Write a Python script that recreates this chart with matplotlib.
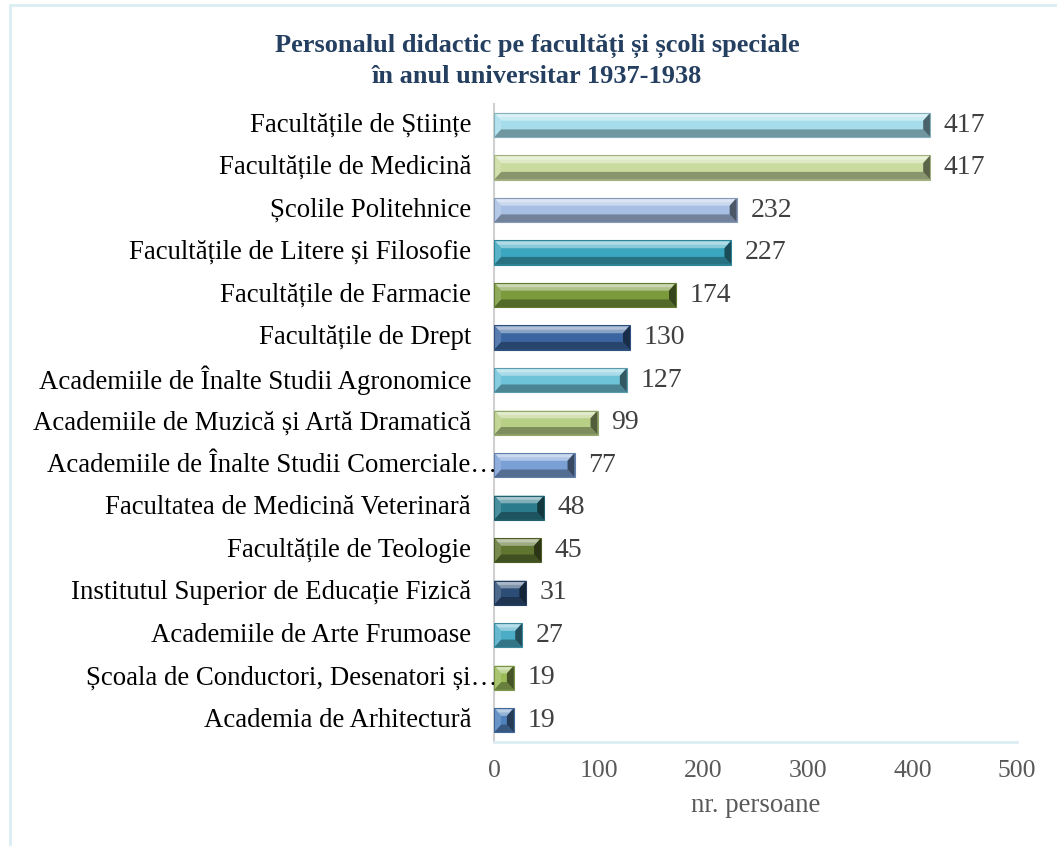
import matplotlib
matplotlib.use("Agg")
import matplotlib.pyplot as plt
import matplotlib.colors as mcolors
from matplotlib.patches import Rectangle
import numpy as np

plt.rcParams['font.family'] = ['Liberation Serif', 'DejaVu Serif']

# data, bottom -> top
categories = [
    "Academia de Arhitectură",
    "Școala de Conductori, Desenatori și…",
    "Academiile de Arte Frumoase",
    "Institutul Superior de Educație Fizică",
    "Facultățile de Teologie",
    "Facultatea de Medicină Veterinară",
    "Academiile de Înalte Studii Comerciale…",
    "Academiile de Muzică și Artă Dramatică",
    "Academiile de Înalte Studii Agronomice",
    "Facultățile de Drept",
    "Facultățile de Farmacie",
    "Facultățile de Litere și Filosofie",
    "Școlile Politehnice",
    "Facultățile de Medicină",
    "Facultățile de Științe",
]
values = [19, 19, 27, 31, 45, 48, 77, 99, 127, 130, 174, 227, 232, 417, 417]
colors = ["#4F81BD", "#9BBB59", "#4BACC6", "#2C4D75", "#5F7530", "#2A7B8C",
          "#7BA0D6", "#B8CF86", "#6FC3D8", "#3A65A0", "#7A9A3C", "#3AA6BF",
          "#A7BFE3", "#CADB9F", "#A5DDEB"]
xticks = [0, 100, 200, 300, 400, 500]
title = "Personalul didactic pe facultăți și școli speciale\nîn anul universitar 1937-1938"
xlabel = "nr. persoane"

W, H = 1057, 846
fig = plt.figure(figsize=(W / 100, H / 100), dpi=100)
ax = fig.add_axes([494 / W, 1 - 741.5 / H, (1017 - 494) / W, (741.5 - 103.75) / H])

def shade(c, f):
    r = np.array(mcolors.to_rgb(c))
    if f >= 0:
        r = r + (1 - r) * f
    else:
        r = r * (1 + f)
    return tuple(np.clip(r, 0, 1))

y = np.arange(len(values))
h = 0.57
bars = ax.barh(y, values, height=h, color=colors, edgecolor='none', zorder=2)

px_per_unit = (1017 - 494) / 500.0
for yi, v, c in zip(y, values, colors):
    x0, x1 = 0.0, float(v)
    y0, y1 = yi - h / 2, yi + h / 2
    bx = min(7.0 / px_per_unit, v / 2.5)
    by = h * 0.32
    # top band
    ax.fill([x0, x1, x1 - bx, x0 + bx], [y1, y1, y1 - by, y1 - by],
            color=shade(c, 0.40), lw=0, zorder=3)
    # highlight stripe near top
    ax.fill([x0 + bx * 0.3, x1 - bx * 0.3, x1 - bx * 0.6, x0 + bx * 0.6],
            [y1 - by * 0.15, y1 - by * 0.15, y1 - by * 0.55, y1 - by * 0.55],
            color=shade(c, 0.6), lw=0, zorder=3)
    # bottom band
    ax.fill([x0, x1, x1 - bx, x0 + bx], [y0, y0, y0 + by, y0 + by],
            color=shade(c, -0.32), lw=0, zorder=3)
    # left bevel
    ax.fill([x0, x0, x0 + bx, x0 + bx], [y0, y1, y1 - by, y0 + by],
            color=shade(c, 0.15), lw=0, zorder=3)
    # right bevel
    ax.fill([x1, x1, x1 - bx, x1 - bx], [y0, y1, y1 - by, y0 + by],
            color=shade(c, -0.55), lw=0, zorder=3)
    # outline
    ax.add_patch(Rectangle((x0, y0), x1 - x0, y1 - y0, fill=False,
                           edgecolor=shade(c, -0.2), lw=0.8, zorder=4))
    ax.text(v + 13, yi, str(v), va='center', ha='left', fontsize=20,
            color='#404040', zorder=5)

ax.set_xlim(0, 500)
ax.set_ylim(-0.5, len(values) - 0.5)
ax.set_xticks(xticks)
ax.set_xticklabels([str(t) for t in xticks], fontsize=18.5, color='#595959')
ax.tick_params(axis='x', length=0, pad=13)
ax.set_yticks(y)
ax.set_yticklabels([])
ax.tick_params(axis='y', length=0)

trans = matplotlib.transforms.blended_transform_factory(fig.transFigure, ax.transData)
for yi, lab in zip(y, categories):
    xr = 497 if lab.endswith("…") else 471
    ax.text(xr / W, yi, lab, transform=trans, ha='right', va='center',
            fontsize=19.3, color='#000000')

for s in ['top', 'right']:
    ax.spines[s].set_visible(False)
ax.spines['left'].set_color('#D0D0D0')
ax.spines['left'].set_linewidth(1.5)
ax.spines['bottom'].set_color('#DAEEF3')
ax.spines['bottom'].set_linewidth(2)

ax.set_xlabel(xlabel, fontsize=19.3, color='#595959', labelpad=8)

fig.text(537 / W, 1 - 61 / H, title, ha='center', va='center', fontsize=19,
         fontweight='bold', color='#243F60', linespacing=1.38)

fig.patches.append(Rectangle((10 / W, -0.01), 1.1, 1 - 5 / H + 0.01,
                             transform=fig.transFigure, fill=False,
                             edgecolor='#DAEEF3', lw=2))

fig.savefig("out.png", dpi=100)
